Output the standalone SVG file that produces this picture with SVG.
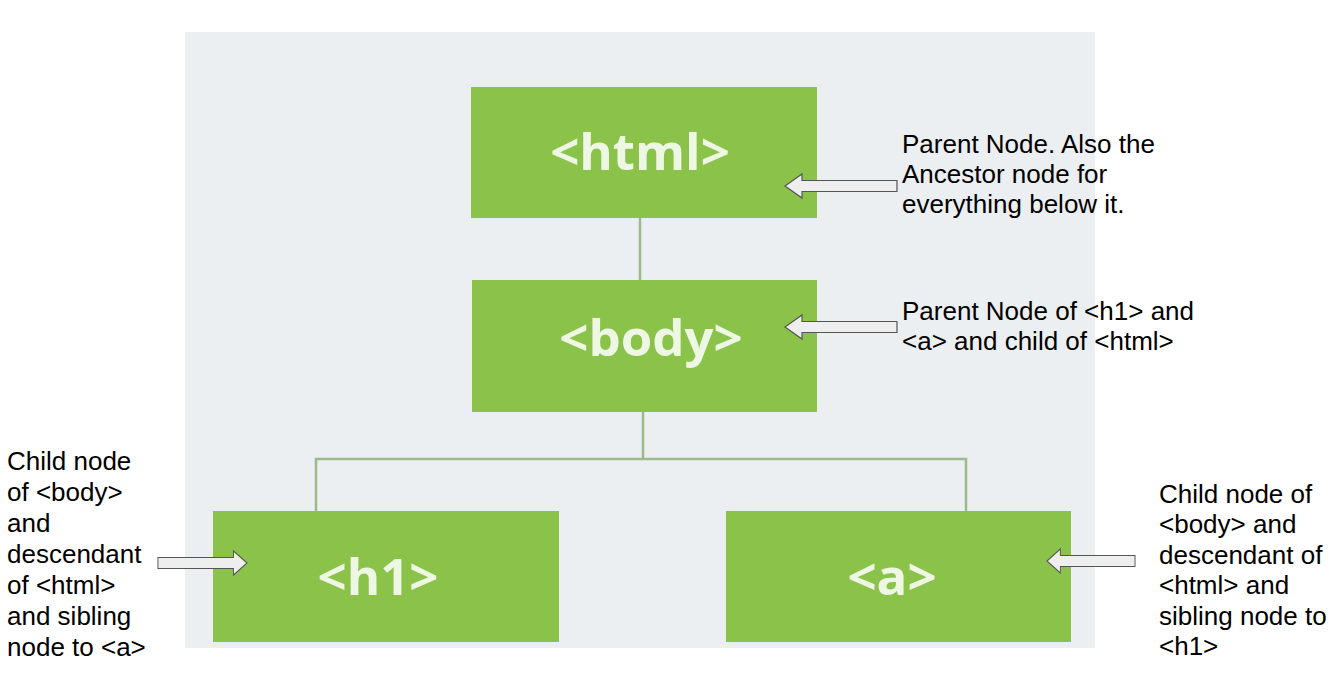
<svg xmlns="http://www.w3.org/2000/svg" xmlns:xlink="http://www.w3.org/1999/xlink" width="1339" height="675" viewBox="0 0 1339 675">
<style>
.panel{fill:#eceff1}
.box{fill:#8bc34a}
.tag{font-family:"Open Sans","DejaVu Sans",sans-serif;font-weight:700;font-size:51px;fill:#eef7e3;text-anchor:middle}
.conn{stroke:#9db88a;stroke-width:2.5;fill:none}
.arrow{fill:#eeeeee;stroke:#555555;stroke-width:1.2;stroke-linejoin:miter}
.lbl{font-family:"Liberation Sans",Arial,sans-serif;font-size:26px;fill:#000000}
</style>
<defs>
<polygon id="arrL" class="arrow" points="0,0 17,-12 17,-5.5 112,-5.5 112,5.5 17,5.5 17,12"/>
</defs>
<rect class="panel" x="185" y="32" width="910" height="616"/>
<g id="connectors">
<line class="conn" x1="640" y1="218" x2="640" y2="280"/>
<line class="conn" x1="643" y1="412" x2="643" y2="459"/>
<polyline class="conn" points="316,511 316,459 966,459 966,511"/>
</g>
<g id="node-html">
<rect class="box" x="471" y="87" width="346" height="131"/>
<text class="tag" x="640" y="170">&lt;html&gt;</text>
</g>
<g id="node-body">
<rect class="box" x="472" y="280" width="345" height="132"/>
<text class="tag" x="651" y="356">&lt;body&gt;</text>
</g>
<g id="node-h1">
<rect class="box" x="213" y="511" width="346" height="131"/>
<text class="tag" x="378" y="595">&lt;h1&gt;</text>
</g>
<g id="node-a">
<rect class="box" x="726" y="511" width="345" height="131"/>
<text class="tag" x="892" y="595">&lt;a&gt;</text>
</g>
<g id="arrows">
<use xlink:href="#arrL" transform="translate(785,186)"/>
<use xlink:href="#arrL" transform="translate(785,327)"/>
<use xlink:href="#arrL" transform="translate(1047,561) scale(0.786,1)"/>
<use xlink:href="#arrL" transform="translate(247,563) scale(-0.795,1)"/>
</g>
<g id="label-html">
<text class="lbl" x="902" y="153">Parent Node. Also the</text>
<text class="lbl" x="902" y="183">Ancestor node for</text>
<text class="lbl" x="902" y="213">everything below it.</text>
</g>
<g id="label-body">
<text class="lbl" x="902" y="320">Parent Node of &lt;h1&gt; and</text>
<text class="lbl" x="902" y="350">&lt;a&gt; and child of &lt;html&gt;</text>
</g>
<g id="label-h1">
<text class="lbl" x="7" y="470">Child node</text>
<text class="lbl" x="7" y="501">of &lt;body&gt;</text>
<text class="lbl" x="7" y="532">and</text>
<text class="lbl" x="7" y="563">descendant</text>
<text class="lbl" x="7" y="594">of &lt;html&gt;</text>
<text class="lbl" x="7" y="625">and sibling</text>
<text class="lbl" x="7" y="656">node to &lt;a&gt;</text>
</g>
<g id="label-a">
<text class="lbl" x="1159" y="503">Child node of</text>
<text class="lbl" x="1159" y="533">&lt;body&gt; and</text>
<text class="lbl" x="1159" y="564">descendant of</text>
<text class="lbl" x="1159" y="594">&lt;html&gt; and</text>
<text class="lbl" x="1159" y="625">sibling node to</text>
<text class="lbl" x="1159" y="655">&lt;h1&gt;</text>
</g>
</svg>
